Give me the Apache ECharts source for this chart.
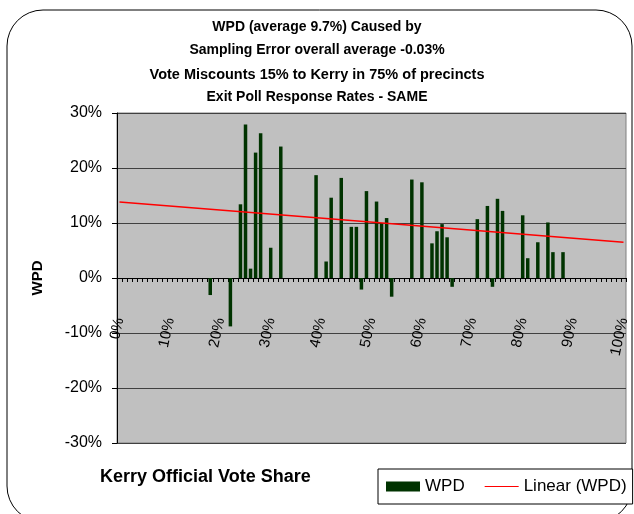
<!DOCTYPE html>
<html>
<head>
<meta charset="utf-8">
<script src="https://cdn.jsdelivr.net/npm/echarts@6/dist/echarts.min.js"></script>
<style>
html,body{margin:0;padding:0;background:#fff;}
#chart{width:634px;height:514px;}
</style>
</head>
<body>
<div id="chart"></div>
<script>
// Category axis: Kerry official vote share 0%..100%
var categories = [];
for (var c = 0; c <= 100; c++) { categories.push(c + '%'); }
var tickLabels = ['0%','10%','20%','30%','40%','50%','60%','70%','80%','90%','100%'];
var yTickLabels = ['-30%','-20%','-10%','0%','10%','20%','30%'];

// WPD bars: vote share position (%) and WPD value (%)
var barShare = [18, 22, 24, 25, 26, 27, 28, 30, 32, 39, 41, 42, 44, 46, 47, 48, 49, 51, 52, 53, 54,
                58, 60, 62, 63, 64, 65, 66, 71, 73, 74, 75, 76, 80, 81, 83, 85, 86, 88];
var barWPD   = [-3.1, -8.8, 13.4, 27.9, 1.7, 22.8, 26.3, 5.5, 23.9, 18.7, 3.0, 14.6, 18.2, 9.3, 9.3, -2.1, 15.8, 13.9, 10.0, 10.9, -3.4,
                17.9, 17.4, 6.3, 8.5, 9.8, 7.4, -1.6, 10.7, 13.1, -1.6, 14.4, 12.2, 11.4, 3.6, 6.5, 10.1, 4.7, 4.7];

// Linear trend (WPD) endpoints
var trendShare = ['0%', '100%'];
var trendWPD = [13.8, 6.5];

var barData = categories.map(function () { return null; });
barShare.forEach(function (s, i) { barData[categories.indexOf(s + '%')] = barWPD[i]; });
var trendData = categories.map(function () { return null; });
trendShare.forEach(function (s, i) { trendData[categories.indexOf(s)] = trendWPD[i]; });

var FONT = '"Liberation Sans", Arial, sans-serif';
var chart = echarts.init(document.getElementById('chart'), null, {renderer: 'canvas'});
chart.setOption({
  animation: false,
  backgroundColor: '#ffffff',
  graphic: [{
    type: 'rect', z: -10,
    shape: {x: 7, y: 10, width: 625, height: 512, r: 36},
    style: {fill: '#ffffff', stroke: '#000000', lineWidth: 1}
  }, {
    type: 'text', left: 100, top: 468,
    style: {text: 'Kerry Official Vote Share', font: 'bold 18px "Liberation Sans", Arial, sans-serif', fill: '#000'}
  }],
  title: [
    {text: 'WPD (average 9.7%) Caused by', left: 'center', top: 15,
     textStyle: {fontFamily: FONT, fontSize: 14, fontWeight: 'bold', color: '#000'}},
    {text: 'Sampling Error overall average -0.03%', left: 'center', top: 38,
     textStyle: {fontFamily: FONT, fontSize: 14, fontWeight: 'bold', color: '#000'}},
    {text: 'Vote Miscounts 15% to Kerry in 75% of precincts', left: 'center', top: 62,
     textStyle: {fontFamily: FONT, fontSize: 14.5, fontWeight: 'bold', color: '#000'}},
    {text: 'Exit Poll Response Rates - SAME', left: 'center', top: 85,
     textStyle: {fontFamily: FONT, fontSize: 14, fontWeight: 'bold', color: '#000'}}
  ],
  legend: {
    left: 378, top: 469,
    padding: [9, 6, 9, 8],
    itemGap: 20,
    itemWidth: 34, itemHeight: 10,
    borderColor: '#000', borderWidth: 1, borderRadius: 0,
    backgroundColor: '#ffffff',
    textStyle: {fontFamily: FONT, fontSize: 17, color: '#000'},
    data: [{name: 'WPD', icon: 'rect'}, {name: 'Linear (WPD)', icon: 'path://M0,0L40,0L40,1L0,1Z'}]
  },
  grid: {
    left: 117, right: 8, top: 113, bottom: 71,
    show: true, backgroundColor: '#c0c0c0', borderColor: '#808080', borderWidth: 1,
    containLabel: false,
    outerBoundsMode: 'none'
  },
  xAxis: {
    type: 'category',
    data: categories,
    boundaryGap: true,
    offset: -165,
    axisLine: {onZero: false, lineStyle: {color: '#000', width: 1}},
    axisTick: {show: true, interval: 0, length: 4, lineStyle: {color: '#000'}},
    axisLabel: {
      interval: 9, rotate: 78, margin: 40,
      fontFamily: FONT, fontSize: 15, color: '#000',
      formatter: function (v) { return tickLabels.indexOf(v) >= 0 ? v : ''; }
    },
    splitLine: {show: false}
  },
  yAxis: {
    type: 'value',
    min: -30, max: 30, interval: 10,
    name: 'WPD',
    nameLocation: 'middle',
    nameGap: 72,
    nameRotate: 90,
    nameTextStyle: {fontFamily: FONT, fontSize: 15, fontWeight: 'bold', color: '#000'},
    axisLine: {show: true, lineStyle: {color: '#000', width: 1}},
    axisTick: {show: true, length: 5, lineStyle: {color: '#000'}},
    axisLabel: {
      margin: 15, fontFamily: FONT, fontSize: 16, color: '#000',
      formatter: function (v) { return yTickLabels[(v + 30) / 10]; }
    },
    splitLine: {show: true, lineStyle: {color: '#404040', width: 1}}
  },
  series: [
    {
      name: 'WPD', type: 'bar',
      data: barData,
      barWidth: 3.5,
      itemStyle: {color: '#003300'},
      z: 2
    },
    {
      name: 'Linear (WPD)', type: 'line',
      data: trendData,
      connectNulls: true,
      symbol: 'none',
      lineStyle: {color: '#ff0000', width: 1.5},
      itemStyle: {color: '#ff0000'},
      z: 3
    }
  ]
});
</script>
</body>
</html>
